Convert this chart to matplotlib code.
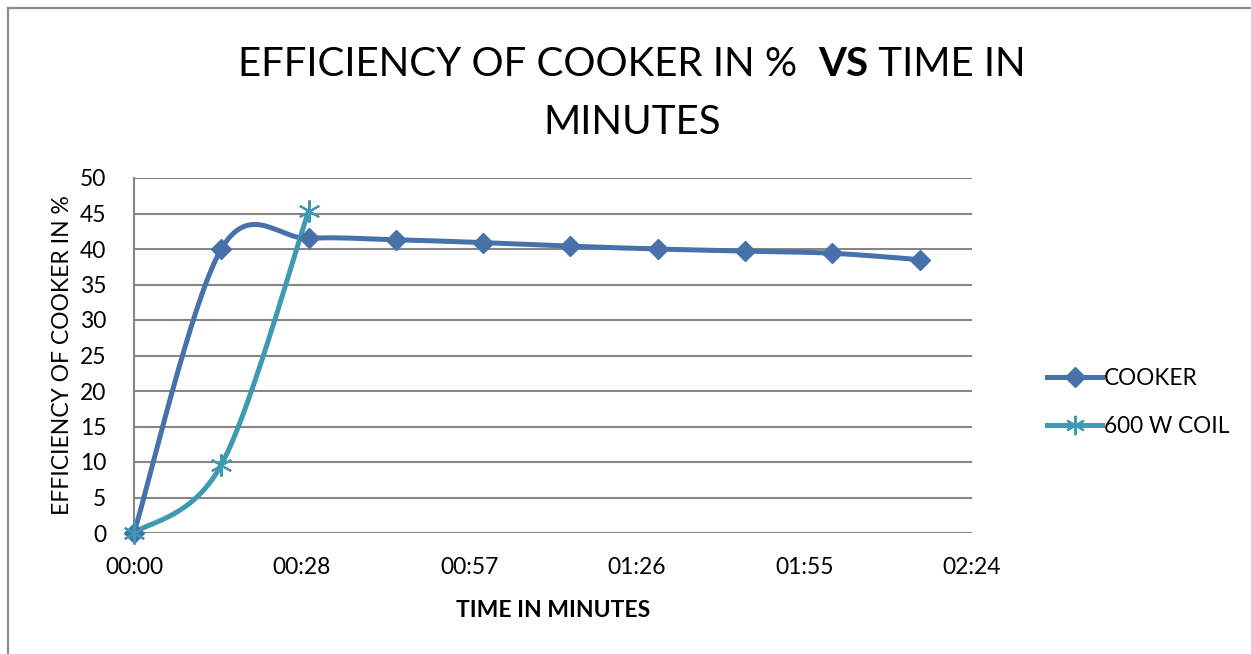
#!/usr/bin/env python3
"""Efficiency of cooker vs time, Excel-style smoothed line chart."""
import numpy as np
import matplotlib
matplotlib.use("Agg")
import matplotlib.pyplot as plt
from matplotlib.lines import Line2D
from matplotlib.ticker import FuncFormatter

# data (time in minutes, efficiency in %)
cooker_time = [0, 15, 30, 45, 60, 75, 90, 105, 120, 135]
cooker_eff = [0, 40.0, 41.5, 41.3, 40.9, 40.4, 40.0, 39.7, 39.4, 38.5]
coil_time = [0, 15, 30]
coil_eff = [0, 9.6, 45.3]

series_names = ["COOKER", "600 W COIL"]
title_main = "EFFICIENCY OF COOKER IN %  "
title_bold = "VS"
title_tail = " TIME IN"
title_line2 = "MINUTES"

COOKER_BLUE = "#4671AA"
COIL_TEAL = "#3F99B1"
GRID = "#868686"

plt.rcParams["font.family"] = ["Lato", "DejaVu Sans"]


def smooth(x, y, steps=30):
    """Catmull-Rom style bezier, roughly like Excel's smoothed lines."""
    x = np.asarray(x, float)
    y = np.asarray(y, float)
    px = np.concatenate([[x[0]], x, [x[-1]]])
    py = np.concatenate([[y[0]], y, [y[-1]]])
    xs, ys = [], []
    t = np.linspace(0, 1, steps)
    for i in range(1, len(px) - 2):
        p0 = np.array([px[i], py[i]])
        p3 = np.array([px[i + 1], py[i + 1]])
        p1 = p0 + (p3 - np.array([px[i - 1], py[i - 1]])) / 6
        p2 = p3 - (np.array([px[i + 2], py[i + 2]]) - p0) / 6
        pts = (((1 - t) ** 3)[:, None] * p0 + (3 * (1 - t) ** 2 * t)[:, None] * p1
               + (3 * (1 - t) * t ** 2)[:, None] * p2 + (t ** 3)[:, None] * p3)
        xs.extend(pts[:, 0])
        ys.extend(pts[:, 1])
    return xs, ys


fig = plt.figure(figsize=(12.51, 6.54), dpi=100)
ax = fig.add_axes([134 / 1251, 121 / 654, 838 / 1251, 355 / 654])

# outer chart frame (left and top edges)
fig.add_artist(Line2D([8 / 1251, 8 / 1251], [0, 1 - 8 / 654], color="#8c8c8c", lw=1.6))
fig.add_artist(Line2D([8 / 1251, 1], [1 - 8 / 654, 1 - 8 / 654], color="#8c8c8c", lw=1.6))

sx, sy = smooth(cooker_time, cooker_eff)
ax.plot(sx, sy, color=COOKER_BLUE, lw=3.6, solid_capstyle="round", zorder=3)
ax.plot(cooker_time, cooker_eff, ls="none", marker="D", ms=10, color=COOKER_BLUE, zorder=4)

sx, sy = smooth(coil_time, coil_eff)
ax.plot(sx, sy, color=COIL_TEAL, lw=3.6, solid_capstyle="round", zorder=3)
ax.plot(coil_time, coil_eff, ls="none", marker=(6, 2, 0), ms=16, mew=1.5,
        color=COIL_TEAL, zorder=5)

ax.set_xlim(0, 144)
ax.set_ylim(0, 50)
ax.set_xticks(np.arange(0, 144.1, 28.8))
ax.xaxis.set_major_formatter(FuncFormatter(
    lambda v, p: "%02d:%02d" % (int(round(v, 3)) // 60, int(round(v, 3)) % 60)))
ax.set_yticks(range(0, 51, 5))
ax.grid(axis="y", color=GRID, lw=1.5)
ax.set_axisbelow(True)
for s in ["top", "right", "bottom"]:
    ax.spines[s].set_visible(False)
ax.spines["left"].set_color(GRID)
ax.spines["left"].set_linewidth(1.5)
ax.tick_params(length=0, labelsize=16.5)
ax.tick_params(axis="x", pad=17)
ax.tick_params(axis="y", pad=20)
for ln in ax.lines:
    ln.set_clip_on(False)

ax.set_xlabel("TIME IN MINUTES", fontsize=16.5, fontweight="bold", labelpad=16)
ax.set_ylabel("EFFICIENCY OF COOKER IN %", fontsize=16.5, labelpad=5)

# title with bold "VS"
t1 = fig.text(0, 0, title_main, fontsize=29)
t2 = fig.text(0, 0, title_bold, fontsize=29, fontweight="bold")
t3 = fig.text(0, 0, title_tail, fontsize=29)
fig.canvas.draw()
r = fig.canvas.get_renderer()
widths = [t.get_window_extent(r).width for t in (t1, t2, t3)]
x0 = 632 - sum(widths) / 2
ybase = 654 - 76
for t, w in zip((t1, t2, t3), widths):
    t.set_position((x0 / 1251, ybase / 654))
    x0 += w
fig.text(632 / 1251, (654 - 134) / 654, title_line2, fontsize=29, ha="center")

handles = [
    Line2D([], [], color=COOKER_BLUE, lw=3.6, marker="D", ms=10),
    Line2D([], [], color=COIL_TEAL, lw=3.6, marker=(6, 2, 0), ms=14, mew=1.5),
]
fig.legend(handles, series_names, loc="center left", bbox_to_anchor=(1027 / 1251, 0.385),
           frameon=False, fontsize=16.3, handlelength=2.4, handletextpad=0.1,
           labelspacing=1.2)

fig.savefig("out.png", dpi=100)
